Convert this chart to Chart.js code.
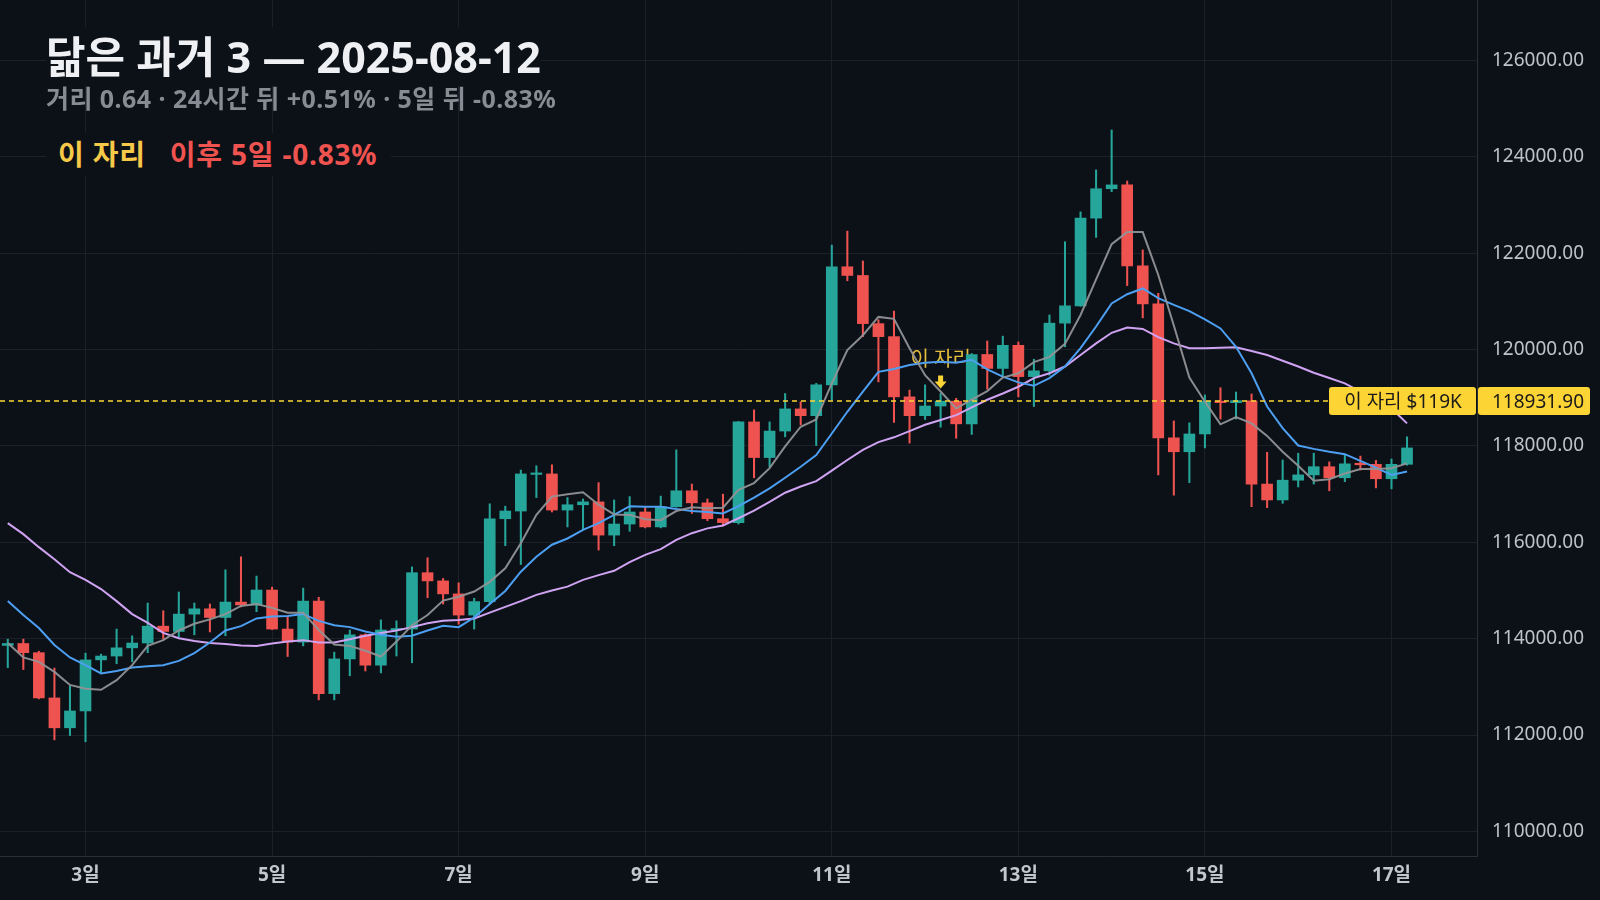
<!DOCTYPE html>
<html lang="ko">
<head>
<meta charset="utf-8">
<title>닮은 과거 3 — 2025-08-12</title>
<script src="https://cdn.jsdelivr.net/npm/chart.js@4.4.1/dist/chart.umd.min.js"></script>
<style>
  html, body { margin: 0; padding: 0; background: #0c1017; }
  #wrap { position: relative; width: 1600px; height: 900px; overflow: hidden; }
  #chart { position: absolute; left: 0; top: 0; }
  .head { position: absolute; left: 46px; top: 31px; font-family: 'Noto Sans', 'Noto Sans CJK KR', sans-serif; }
  .title { font-size: 43px; font-weight: 700; line-height: 51px; }
  .title span { color: #eef0f3; background: #0c1017; }
  .sub { margin-top: 1px; font-size: 25px; font-weight: 700; line-height: 30px; letter-spacing: 0.45px; color: #868b94; }
  .legend {
    position: absolute; left: 46px; top: 133px; padding: 4px 14px 4px 12px;
    background: #0c1017; font-family: 'Noto Sans', 'Noto Sans CJK KR', sans-serif;
    font-size: 28px; font-weight: 700; line-height: 35px; letter-spacing: 0.8px;
  }
  .legend .here { color: #f7c948; }
  .legend .after { color: #ef5350; margin-left: 24px; }
</style>
</head>
<body>
<div id="wrap">
  <canvas id="chart" width="1600" height="900"></canvas>
  <div class="head">
    <div class="title"><span>닮은 과거 3 — 2025-08-12</span></div>
    <div class="sub">거리 0.64 · 24시간 뒤 +0.51% · 5일 뒤 -0.83%</div>
  </div>
  <div class="legend"><span class="here">이 자리</span><span class="after">이후 5일 -0.83%</span></div>
</div>
<script>
const FONT = "'Noto Sans', 'Noto Sans CJK KR', sans-serif"

// 4시간봉, 8월 2일 04시부터 (뒤쪽 4칸은 빈 자리)
const slotCount = 95
const timeLabels = []
for (let i = 0; i < slotCount; i++) {
  const h = 4 + i * 4
  const day = 2 + Math.floor(h / 24)
  const hour = h % 24
  timeLabels.push(day + '일 ' + String(hour).padStart(2, '0') + '시')
}

const openPrices = [
  113860, 113900, 113710, 112770, 112150, 112500, 113560, 113640, 113810, 113910,
  114260, 114150, 114510, 114620, 114440, 114760, 114700, 115010, 114200, 113930,
  114780, 112860, 113580, 114080, 113450, 114180, 114200, 115370, 115200, 114930,
  114490, 114770, 116490, 116650, 117410, 117420, 116670, 116780, 116840, 116150,
  116380, 116630, 116320, 116740, 117070, 116820, 116490, 116410, 118500, 117760,
  118310, 118770, 118630, 119270, 121720, 121540, 120540, 120270, 119020, 118630,
  118830, 118930, 118460, 119900, 119610, 120090, 119440, 119560, 120550, 120910,
  122730, 123340, 123420, 121740, 120950, 118170, 117880, 118250, 118930, 118900,
  118940, 117210, 116880, 117290, 117400, 117570, 117340, 117630, 117620, 117320,
  117620
]
const highPrices = [
  113990, 113990, 113740, 113390, 113020, 113700, 113680, 114200, 114060, 114740,
  114580, 114970, 114740, 114720, 115430, 115700, 115300, 115070, 114460, 115050,
  114860, 113720, 114180, 114100, 114390, 114370, 115490, 115680, 115250, 115160,
  114840, 116800, 116750, 117500, 117590, 117610, 116930, 116900, 117240, 116880,
  116950, 116730, 116960, 117920, 117210, 116900, 117000, 118510, 118750, 118500,
  119090, 118920, 119300, 122170, 122460, 121840, 120620, 120800, 119160, 119270,
  119090, 118990, 119920, 120180, 120280, 120160, 119800, 120720, 122240, 122860,
  123730, 124560, 123500, 122070, 121170, 118520, 118480, 119060, 119210, 119120,
  119080, 117870, 117710, 117850, 117850, 117670, 117830, 117790, 117700, 117730,
  118190
]
const lowPrices = [
  113400, 113360, 112750, 111900, 111990, 111860, 113280, 113480, 113520, 113710,
  113990, 114030, 114080, 114140, 114060, 114660, 114560, 114190, 113630, 113850,
  112730, 112730, 113230, 113330, 113290, 113640, 113500, 114850, 114720, 114300,
  114200, 114720, 115930, 115540, 116930, 116630, 116320, 116260, 115840, 115930,
  116230, 116300, 116300, 116730, 116600, 116450, 116340, 116380, 117340, 117570,
  118190, 118440, 118010, 118950, 121430, 120270, 119330, 118490, 118060, 118550,
  118390, 118160, 118240, 119180, 119440, 119020, 118820, 119470, 120060, 120900,
  122330, 123280, 121330, 120660, 117400, 116980, 117240, 117960, 118560, 118560,
  116740, 116720, 116810, 117150, 117210, 117070, 117260, 117500, 117130, 117110,
  117600
]
const closePrices = [
  113900, 113710, 112770, 112150, 112500, 113560, 113640, 113810, 113910, 114260,
  114150, 114510, 114620, 114440, 114760, 114700, 115010, 114200, 113930, 114780,
  112860, 113580, 114080, 113450, 114180, 114200, 115370, 115200, 114930, 114490,
  114770, 116490, 116650, 117420, 117420, 116670, 116780, 116840, 116150, 116380,
  116630, 116320, 116740, 117070, 116820, 116490, 116410, 118500, 117760, 118310,
  118770, 118630, 119270, 121720, 121540, 120540, 120270, 119020, 118630, 118830,
  118931.9, 118460, 119900, 119610, 120090, 119440, 119560, 120550, 120910, 122730,
  123340, 123420, 121740, 120950, 118170, 117880, 118250, 118930, 118900, 118940,
  117210, 116880, 117290, 117400, 117570, 117340, 117630, 117610, 117320, 117620,
  117960
]

// 이동평균 (회색 / 파랑 / 보라)
const maFast = [
  113910, 113610, 113520, 113310, 113040, 112960, 112940, 113140, 113450, 113850,
  113970, 114170, 114310, 114400, 114510, 114680, 114720, 114640, 114540, 114540,
  114180, 113880, 113850, 113750, 113630, 113940, 114280, 114490, 114790, 114870,
  114980, 115180, 115460, 115980, 116570, 116950, 117000, 117040, 116780, 116580,
  116570, 116480, 116460, 116650, 116730, 116710, 116720, 117090, 117230, 117540,
  117990, 118400, 118550, 119300, 119990, 120300, 120680, 120640, 120030, 119470,
  119130, 118780, 118960, 119140, 119420, 119510, 119740, 119850, 120120, 120720,
  121460, 122190, 122440, 122440, 121550, 120500, 119420, 118920, 118450, 118600,
  118470, 118210, 117880, 117590, 117280, 117310, 117430, 117520, 117520, 117540,
  117640
]
const maMid = [
  114780, 114490, 114220, 113870, 113610, 113450, 113280, 113330, 113400, 113430,
  113450, 113540, 113700, 113920, 114170, 114260, 114420, 114460, 114470, 114510,
  114370, 114280, 114240, 114150, 114080, 114040, 114060, 114170, 114270, 114240,
  114440, 114720, 114990, 115390, 115700, 115950, 116080, 116260, 116400, 116570,
  116750, 116740, 116740, 116690, 116650, 116630, 116600, 116750, 116930, 117120,
  117340, 117570, 117810, 118260, 118710, 119130, 119540, 119600, 119680, 119730,
  119750, 119730, 119790, 119590, 119440, 119320, 119250, 119410, 119650, 120030,
  120480, 120960, 121150, 121270, 121070, 120930, 120800, 120630, 120440, 120060,
  119510, 118820, 118370, 118010, 117940, 117880, 117830, 117690, 117550, 117400,
  117470
]
const maSlow = [
  116400, 116170, 115900, 115650, 115380, 115220, 115030, 114780, 114510, 114330,
  114120, 114010, 113950, 113910, 113890, 113860, 113850, 113900, 113940, 113970,
  113920, 113920, 113990, 114060, 114120, 114170, 114240, 114320, 114370, 114390,
  114420, 114540, 114660, 114780, 114910, 115000, 115080, 115220, 115320, 115410,
  115590, 115740, 115860, 116050, 116190, 116290, 116350, 116500, 116660, 116840,
  117030, 117160, 117270, 117490, 117710, 117920, 118080, 118180, 118310, 118440,
  118540, 118640, 118800, 118960, 119090, 119230, 119410, 119510, 119650, 119890,
  120130, 120350, 120460, 120430, 120260, 120130, 120030, 120030, 120040, 120050,
  119970, 119890, 119770, 119650, 119520, 119410, 119300, 119130, 118960, 118780,
  118470
]

const yTickValues = [110000, 112000, 114000, 116000, 118000, 120000, 122000, 124000, 126000]

const refIndex = 60
const refPrice = 118931.90
const refTag = '이 자리 $119K'
const refMark = '이 자리'

const UP = '#26a69a'
const DOWN = '#ef5350'
const YELLOW = '#fcd535'
const GRID = '#1c2029'
const AXIS = '#2a2e37'

const candleColors = openPrices.map((o, i) => (closePrices[i] >= o ? UP : DOWN))
const bodies = openPrices.map((o, i) => [o, closePrices[i]])
const wicks = lowPrices.map((l, i) => [l, highPrices[i]])

function isDayTick(i) {
  const lbl = timeLabels[i]
  if (!lbl || !lbl.endsWith(' 00시')) return false
  return parseInt(lbl) % 2 === 1
}

/* reference marker + price line */
const refPlugin = {
  id: 'refPlugin',
  beforeDatasetsDraw(chart) {
    const { ctx, scales: { x, y } } = chart
    const px = x.getPixelForValue(refIndex)
    const top = y.getPixelForValue(highPrices[refIndex])
    ctx.save()
    ctx.fillStyle = '#e3bd3c'
    ctx.font = '20px ' + FONT
    ctx.textAlign = 'center'
    ctx.textBaseline = 'alphabetic'
    ctx.fillText(refMark, px, top - 27)

    // down arrow
    const aTop = top - 18
    const aBot = top - 5
    ctx.fillStyle = YELLOW
    ctx.beginPath()
    ctx.moveTo(px - 2.5, aTop)
    ctx.lineTo(px + 2.5, aTop)
    ctx.lineTo(px + 2.5, aTop + 6)
    ctx.lineTo(px + 6, aTop + 6)
    ctx.lineTo(px, aBot)
    ctx.lineTo(px - 6, aTop + 6)
    ctx.lineTo(px - 2.5, aTop + 6)
    ctx.closePath()
    ctx.fill()
    ctx.restore()
  },
  afterDatasetsDraw(chart) {
    const { ctx, chartArea: { left, right }, scales: { y } } = chart
    const py = y.getPixelForValue(refPrice)
    const tagW = 148
    const h = 28
    ctx.save()
    ctx.strokeStyle = YELLOW
    ctx.lineWidth = 1.5
    ctx.setLineDash([5, 4])
    ctx.beginPath()
    ctx.moveTo(left, py)
    ctx.lineTo(right - tagW, py)
    ctx.stroke()
    ctx.setLineDash([])

    ctx.fillStyle = YELLOW
    ctx.beginPath()
    ctx.roundRect(right - tagW, py - h / 2, tagW - 1, h, 3)
    ctx.fill()
    ctx.beginPath()
    ctx.roundRect(right + 1, py - h / 2, 112, h, 3)
    ctx.fill()

    ctx.fillStyle = '#1a1a1a'
    ctx.font = '19px ' + FONT
    ctx.textBaseline = 'middle'
    ctx.textAlign = 'center'
    ctx.fillText(refTag, right - tagW / 2, py + 1)
    ctx.textAlign = 'left'
    ctx.fillText(refPrice.toFixed(2), right + 15, py + 1)
    ctx.restore()
  }
}

Chart.defaults.font.family = FONT

new Chart(document.getElementById('chart'), {
  type: 'bar',
  data: {
    labels: timeLabels,
    datasets: [
      { type: 'line', label: 'MA-fast', data: maFast, borderColor: 'rgba(145,146,150,0.95)', borderWidth: 2, pointRadius: 0, tension: 0, order: 0 },
      { type: 'line', label: 'MA-mid', data: maMid, borderColor: '#4d9ff2', borderWidth: 2, pointRadius: 0, tension: 0, order: 0 },
      { type: 'line', label: 'MA-slow', data: maSlow, borderColor: '#cfa3f2', borderWidth: 2, pointRadius: 0, tension: 0, order: 0 },
      { label: 'body', data: bodies, backgroundColor: candleColors, barThickness: 11, minBarLength: 1.5, grouped: false, order: 1 },
      { label: 'wick', data: wicks, backgroundColor: candleColors, barThickness: 1.4, grouped: false, order: 2 },
    ],
  },
  options: {
    responsive: false,
    animation: false,
    layout: { padding: 0 },
    plugins: { legend: { display: false }, tooltip: { enabled: false } },
    scales: {
      x: {
        offset: true,
        grid: {
          offset: false,
          drawTicks: false,
          color: (c) => (isDayTick(c.index) ? GRID : 'rgba(0,0,0,0)'),
        },
        border: { color: AXIS },
        ticks: {
          autoSkip: false,
          maxRotation: 0,
          padding: 8,
          color: '#c3c6cc',
          font: { size: 19, weight: 'bold' },
          callback: (v, i) => (isDayTick(i) ? timeLabels[i].split(' ')[0] : ''),
        },
        afterFit: (s) => { s.height = 44; s.paddingLeft = 0; s.paddingRight = 0 },
      },
      y: {
        position: 'right',
        min: 109489,
        max: 127258,
        afterBuildTicks: (s) => { s.ticks = yTickValues.map((v) => ({ value: v })) },
        grid: { color: GRID, drawTicks: false },
        border: { color: AXIS },
        ticks: {
          padding: 15,
          color: '#bfc2c8',
          font: { size: 19 },
          callback: (v) => Number(v).toFixed(2),
        },
        afterFit: (s) => { s.width = 123; s.paddingTop = 0; s.paddingBottom = 0 },
      },
    },
  },
  plugins: [refPlugin],
})
</script>
</body>
</html>
